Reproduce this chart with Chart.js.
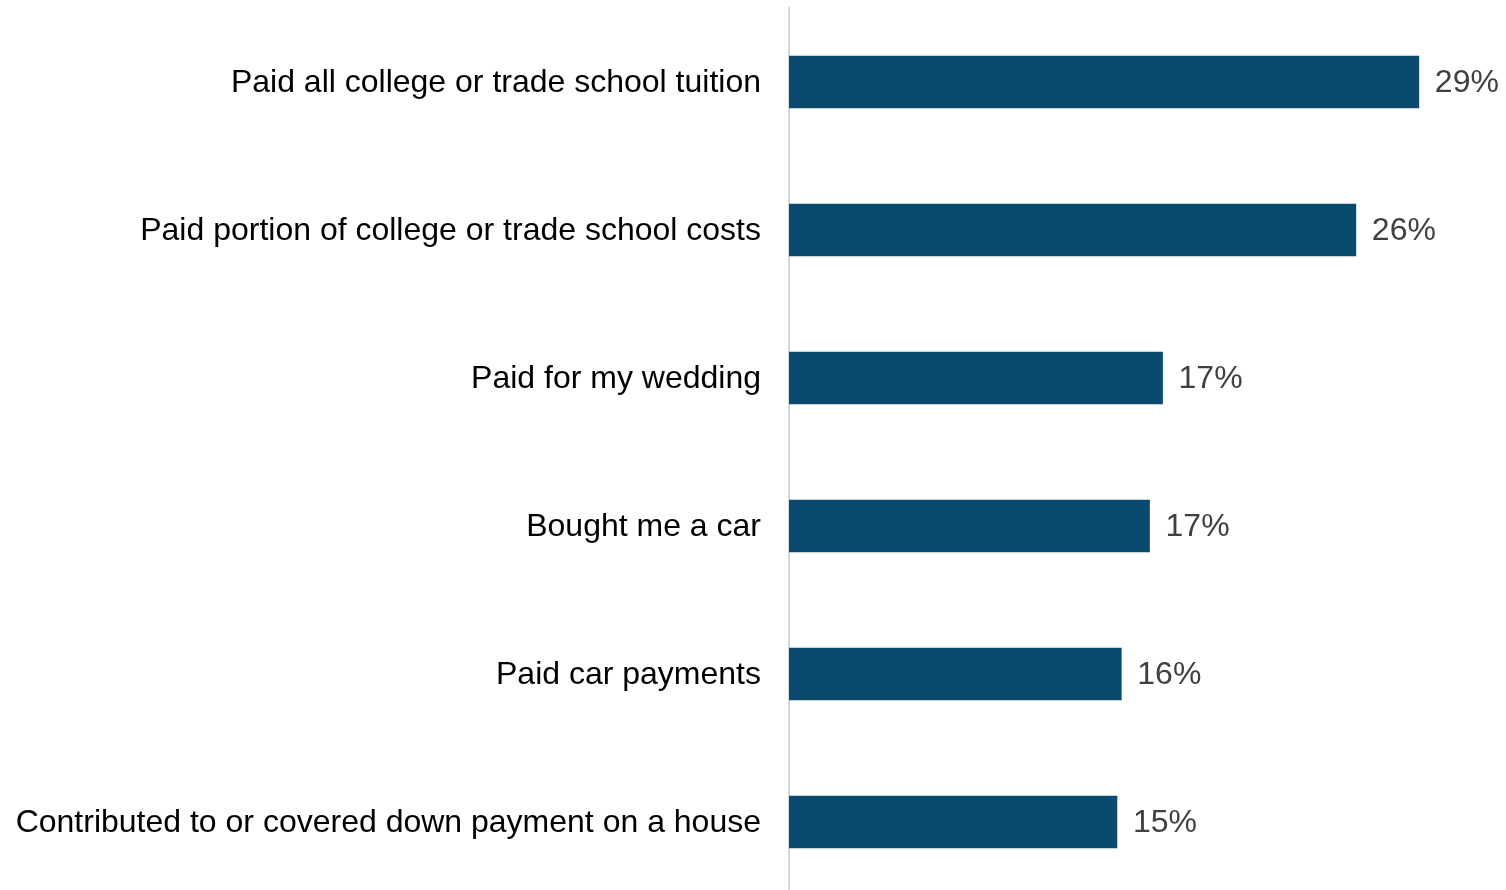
<!DOCTYPE html>
<html lang="en">
<head>
    <meta charset="UTF-8">
    <title>Parent financial help</title>
    <script src="https://cdn.jsdelivr.net/npm/chart.js"></script>
    <style>
        html, body {
            margin: 0;
            padding: 0;
            background: #ffffff;
            overflow: hidden;
        }
        .chart-container {
            position: relative;
            width: 1506px;
            height: 898px;
        }
    </style>
</head>
<body>
    <div class="chart-container">
        <canvas id="helpChart"></canvas>
    </div>

    <script type="text/javascript">
        // categories and values
        const categories = [
            'Paid all college or trade school tuition',
            'Paid portion of college or trade school costs',
            'Paid for my wedding',
            'Bought me a car',
            'Paid car payments',
            'Contributed to or covered down payment on a house'
        ];
        const shares = [29.0, 26.1, 17.2, 16.6, 15.3, 15.1];
        const shareLabels = ['29%', '26%', '17%', '17%', '16%', '15%'];

        // value labels to the right of each bar
        const valueLabels = {
            id: 'valueLabels',
            afterDatasetsDraw(chart) {
                const ctx = chart.ctx;
                const meta = chart.getDatasetMeta(0);
                ctx.save();
                ctx.font = '32px "Liberation Sans", Arial, sans-serif';
                ctx.fillStyle = '#404040';
                ctx.textAlign = 'left';
                ctx.textBaseline = 'middle';
                meta.data.forEach((bar, i) => {
                    ctx.fillText(shareLabels[i], bar.x + 16, bar.y + 1);
                });
                ctx.restore();
            }
        };

        const ctx = document.getElementById('helpChart').getContext('2d');
        new Chart(ctx, {
            type: 'bar',
            data: {
                labels: categories,
                datasets: [{
                    data: shares,
                    backgroundColor: '#084b6e',
                    borderWidth: 0,
                    barThickness: 52
                }]
            },
            options: {
                indexAxis: 'y',
                responsive: true,
                maintainAspectRatio: false,
                animation: false,
                layout: {
                    padding: { top: 8, bottom: 2, left: 0, right: 22 }
                },
                plugins: {
                    legend: { display: false },
                    tooltip: { enabled: false }
                },
                scales: {
                    x: {
                        display: false,
                        min: 0,
                        max: 32
                    },
                    y: {
                        afterFit(scale) {
                            scale.width = 789;
                            scale.paddingTop = 0;
                            scale.paddingBottom = 0;
                        },
                        grid: { display: false, drawTicks: false },
                        border: { display: true, color: '#d9d9d9', width: 2 },
                        ticks: {
                            padding: 28,
                            labelOffset: 1,
                            color: '#000000',
                            font: { family: '"Liberation Sans", Arial, sans-serif', size: 32 }
                        }
                    }
                }
            },
            plugins: [valueLabels]
        });
    </script>
</body>
</html>
